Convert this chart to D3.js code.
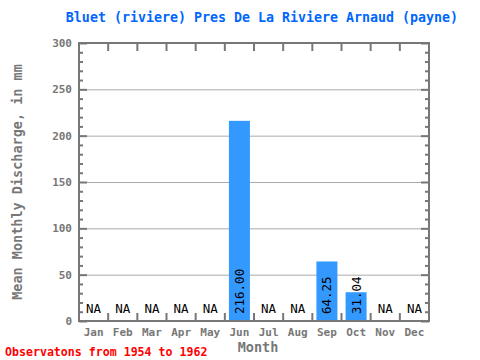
<!DOCTYPE html>
<html><head><meta charset="utf-8">
<script src="https://cdn.jsdelivr.net/npm/d3@7"></script>
<style>body{margin:0;background:#fff}svg{display:block}text{font-family:"DejaVu Sans Mono",monospace}</style>
</head><body>
<script>
const months = ["Jan","Feb","Mar","Apr","May","Jun","Jul","Aug","Sep","Oct","Nov","Dec"];
const values = [null,null,null,null,null,216.00,null,null,64.25,31.04,null,null];
const yTicks = [0,50,100,150,200,250,300];
const title = "Bluet (riviere) Pres De La Riviere Arnaud (payne)";
const footer = "Observatons from 1954 to 1962";

const W=480,H=360, L=79, R=429, T=43, B=321;
const svg=d3.select("body").append("svg").attr("width",W).attr("height",H);
const x=d3.scaleBand().domain(months).range([L,R]).paddingInner(0.28).paddingOuter(0.14);
const xb=d3.scaleLinear().domain([0,12]).range([L,R]);
const y=d3.scaleLinear().domain([0,300]).range([B,T]);
const grey="#777";

// gridlines
svg.append("g").selectAll("line").data(yTicks.filter(d=>d>0&&d<300)).join("line")
 .attr("x1",L).attr("x2",R).attr("y1",d=>y(d)+0.5).attr("y2",d=>y(d)+0.5)
 .attr("stroke","#aaa").attr("stroke-width",1);

// bars
svg.append("g").selectAll("rect").data(months.map((m,i)=>({m,v:values[i]})).filter(d=>d.v!=null)).join("rect")
 .attr("x",d=>x(d.m)).attr("width",x.bandwidth()).attr("y",d=>y(d.v)).attr("height",d=>y(0)-y(d.v))
 .attr("fill","#3399ff");

// minor ticks left/right
const minor=d3.range(0,301,10);
svg.append("g").selectAll("line").data(minor).join("line")
 .attr("x1",L).attr("x2",d=>L+(d%50===0?8:4)).attr("y1",d=>y(d)+0.5).attr("y2",d=>y(d)+0.5).attr("stroke",grey).attr("stroke-width",2);
svg.append("g").selectAll("line").data(minor).join("line")
 .attr("x1",R).attr("x2",d=>R-(d%50===0?8:4)).attr("y1",d=>y(d)+0.5).attr("y2",d=>y(d)+0.5).attr("stroke",grey).attr("stroke-width",2);
// top/bottom category ticks
const bnd=d3.range(1,12);
svg.append("g").selectAll("line").data(bnd).join("line")
 .attr("x1",d=>xb(d)).attr("x2",d=>xb(d)).attr("y1",T).attr("y2",T+8).attr("stroke",grey).attr("stroke-width",2);
svg.append("g").selectAll("line").data(bnd).join("line")
 .attr("x1",d=>xb(d)).attr("x2",d=>xb(d)).attr("y1",B).attr("y2",B-8).attr("stroke",grey).attr("stroke-width",2);

// frame
svg.append("rect").attr("x",L).attr("y",T).attr("width",R-L).attr("height",B-T)
 .attr("fill","none").attr("stroke",grey).attr("stroke-width",2);

// y tick labels
svg.append("g").selectAll("text").data(yTicks).join("text")
 .attr("x",72).attr("y",d=>y(d)+4).attr("text-anchor","end")
 .attr("font-size",11).attr("font-weight","bold").attr("fill",grey).text(d=>d);
// x tick labels
svg.append("g").selectAll("text").data(months).join("text")
 .attr("x",d=>x(d)+x.bandwidth()/2).attr("y",336).attr("text-anchor","middle")
 .attr("font-size",11).attr("font-weight","bold").attr("fill",grey).text(d=>d);

// value labels
months.forEach((m,i)=>{
  const cx=x(m)+x.bandwidth()/2, v=values[i];
  if(v==null){
    svg.append("text").attr("x",cx).attr("y",313).attr("text-anchor","middle")
      .attr("font-size",12.5).attr("fill","#000").text("NA");
  } else {
    svg.append("text").attr("transform",`translate(${cx+4.5},${B-7}) rotate(-90)`)
      .attr("font-size",12.5).attr("fill","#000").text(v.toFixed(2));
  }
});

// title and axis labels
svg.append("text").attr("x",262).attr("y",22).attr("text-anchor","middle")
 .attr("font-size",13.3).attr("font-weight","bold").attr("fill","#0066ff").text(title);
svg.append("text").attr("x",258).attr("y",352).attr("text-anchor","middle")
 .attr("font-size",13.5).attr("font-weight","bold").attr("fill",grey).text("Month");
svg.append("text").attr("transform","translate(22,182) rotate(-90)").attr("text-anchor","middle")
 .attr("font-size",13.5).attr("font-weight","bold").attr("fill",grey).text("Mean Monthly Discharge, in mm");
svg.append("text").attr("x",5).attr("y",356)
 .attr("font-size",11.6).attr("font-weight","bold").attr("fill","#ff0000").text(footer);
</script>
</body></html>
